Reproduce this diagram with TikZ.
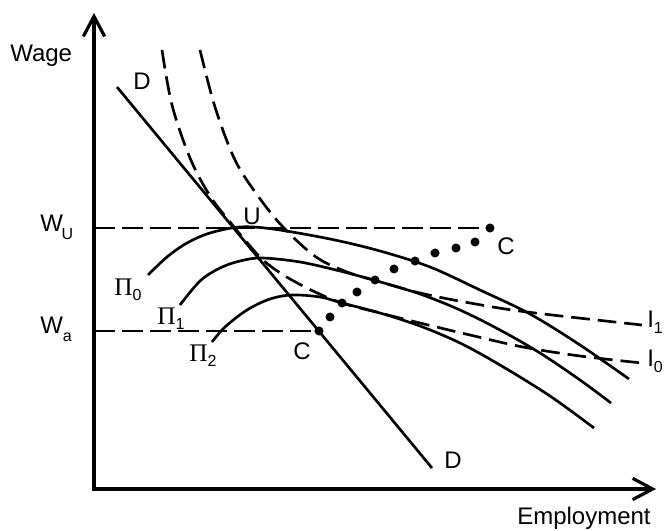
\documentclass[tikz,border=0pt]{standalone}
\usepackage{fontspec}
\setmainfont{Liberation Sans}
\newfontfamily\pifont{Liberation Serif}
\usetikzlibrary{arrows.meta}

\tikzset{
  curve/.style={line width=2pt},
  dashcurve/.style={line width=2pt, dash pattern=on 14pt off 6pt},
  wline/.style={line width=1.7pt, dash pattern=on 16pt off 5pt},
  tangdot/.style={circle, fill=black, inner sep=0pt, minimum size=6.8pt},
  lab/.style={inner sep=0pt, anchor=base west, font=\fontsize{18}{21}\selectfont},
}
\newcommand{\lowsub}[2]{\raisebox{-#1}{\fontsize{12}{14}\selectfont #2}}
\newcommand{\pilab}[1]{{\pifont\fontsize{19}{22}\selectfont Π}\lowsub{3.75pt}{#1}}

\begin{document}
\begin{tikzpicture}[x=0.75pt,y=0.75pt,yscale=-1,xscale=1]
\useasboundingbox (0,0) rectangle (668,531);

\coordinate (O) at (94,489);
\coordinate (ytip) at (94,13);
\coordinate (xtip) at (656,489);
\coordinate (Dtop) at (117,87);
\coordinate (Dbot) at (432,468);
\coordinate (WU) at (94,228);
\coordinate (WA) at (94,331);

%Shape: Axis 2D
\draw [line width=2.4pt, {Straight Barb[length=15pt,width=16pt]}-{Straight Barb[length=15pt,width=16pt]}] (ytip) -- (O) -- (xtip);

%Straight Lines: demand curve
\draw [curve] (Dtop) -- (Dbot);

%Curve Lines: isoprofit curves
\draw [curve] plot [smooth, tension=0.55] coordinates {(148,275) (167,257) (187,243) (210,233) (240,227) (273,229) (330,239) (380,251) (430,267) (480,290) (530,314) (580,345) (629,379)};
\draw [curve] plot [smooth, tension=0.55] coordinates {(180,305) (200,281) (220,268) (240,261) (262,258) (300,262) (340,271) (377,281) (420,294) (460,310) (500,330) (540,353) (580,380) (611,403)};
\draw [curve] plot [smooth, tension=0.55] coordinates {(212,342) (225,327) (247,310) (270,299) (292,295) (320,297) (342,303) (380,313) (420,326) (460,343) (500,365) (550,396) (594,428)};

%Curve Lines: indifference curves
\draw [dashcurve] plot [smooth, tension=0.55] coordinates {(200,50) (215,107) (235,160) (258,196) (283,227) (316,257) (347,272) (377,281) (420,293) (470,303) (527,312) (642,325)};
\draw [dashcurve] plot [smooth, tension=0.55] coordinates {(162,50) (172,105) (190,158) (210,196) (230,222) (250,246) (264,261) (285,276) (313,291) (342,303) (380,313) (420,323) (470,335) (523,347) (580,356) (642,363)};

%Contract curve dots
\node [tangdot] (Ca) at (319,331) {};
\node [tangdot] (k1) at (330,317) {};
\node [tangdot] (k2) at (342,303) {};
\node [tangdot] (k3) at (357,292) {};
\node [tangdot] (k4) at (375,280) {};
\node [tangdot] (k5) at (394,269) {};
\node [tangdot] (k6) at (415,261) {};
\node [tangdot] (k7) at (435,253) {};
\node [tangdot] (k8) at (456,248) {};
\node [tangdot] (k9) at (475,242) {};
\node [tangdot] (Cu) at (490,228) {};

%Straight Lines: wage levels
\draw [wline] (WU) -- (Cu.center);
\draw [wline] (WA) -- (Ca.center);

% Text Node
\node [lab] (wage) at (10,62) {Wage};
% Text Node
\node [lab] (empl) at (517,524) {Employment};
% Text Node
\node [lab] (wulab) at (40,232) {W\kern-1pt\lowsub{6pt}{U}};
% Text Node
\node [lab] (walab) at (40,333) {W\lowsub{6pt}{a}};
% Text Node
\node [lab] (dtop) at (133,90) {D};
% Text Node
\node [lab] (dbot) at (444,468) {D};
% Text Node
\node [lab] (ulab) at (243,225) {U};
% Text Node
\node [lab] (cup) at (497,255) {C};
% Text Node
\node [lab] (clow) at (293,359) {C};
% Text Node
\node [lab] (pi0) at (114,296) {\pilab{0}};
% Text Node
\node [lab] (pi1) at (157,324) {\pilab{1}};
% Text Node
\node [lab] (pi2) at (189,361) {\pilab{2}};
% Text Node
\node [lab] (i1) at (647,327) {I\lowsub{5pt}{1}};
% Text Node
\node [lab] (i0) at (647,366) {I\lowsub{5pt}{0}};

\end{tikzpicture}
\end{document}
